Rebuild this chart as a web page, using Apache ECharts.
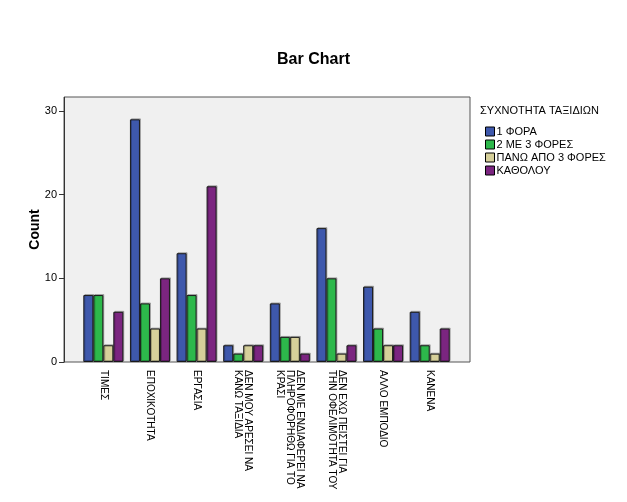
<!DOCTYPE html>
<html>
<head>
<meta charset="utf-8">
<script src="https://cdn.jsdelivr.net/npm/echarts@6/dist/echarts.min.js"></script>
<style>
    html, body { margin: 0; padding: 0; background: #fff; }
    #bar-container { width: 627px; height: 502px; }
</style>
</head>
<body>
<div id="bar-container"></div>
<script>
const categories = [
    'ΤΙΜΕΣ',
    'ΕΠΟΧΙΚΟΤΗΤΑ',
    'ΕΡΓΑΣΙΑ',
    'ΔΕΝ ΜΟΥ ΑΡΕΣΕΙ ΝΑ\nΚΑΝΩ ΤΑΞΙΔΙΑ',
    'ΔΕΝ ΜΕ ΕΝΔΙΑΦΕΡΕΙ ΝΑ\nΠΛΗΡΟΦΟΡΗΘΩ ΓΙΑ ΤΟ\nΚΡΑΣΙ',
    'ΔΕΝ ΕΧΩ ΠΕΙΣΤΕΙ ΓΙΑ\nΤΗΝ ΟΦΕΛΙΜΟΤΗΤΑ ΤΟΥ',
    'ΑΛΛΟ ΕΜΠΟΔΙΟ',
    'ΚΑΝΕΝΑ'
];
const seriesNames = ['1 ΦΟΡΑ', '2 ΜΕ 3 ΦΟΡΕΣ', 'ΠΑΝΩ ΑΠΟ 3 ΦΟΡΕΣ', 'ΚΑΘΟΛΟΥ'];
const once = [8, 29, 13, 2, 7, 16, 9, 6];
const twoToThree = [8, 7, 8, 1, 3, 10, 4, 2];
const overThree = [2, 4, 4, 2, 3, 1, 2, 1];
const never = [6, 10, 21, 2, 1, 2, 2, 4];
const colors = ['#3e58ac', '#2db84b', '#d6d09a', '#7b2580'];

const font = 'Arial, "Liberation Sans", sans-serif';
const chart = echarts.init(document.getElementById('bar-container'), null, { renderer: 'canvas' });

const values = [once, twoToThree, overThree, never];

const options = {
    animation: false,
    textStyle: { fontFamily: font },
    title: [
        {
            text: 'Bar Chart',
            left: 'center',
            top: 47,
            textStyle: { fontSize: 16, fontWeight: 'bold', color: '#000', fontFamily: font }
        },
        {
            text: 'ΣΥΧΝΟΤΗΤΑ ΤΑΞΙΔΙΩΝ',
            left: 475,
            top: 100,
            textStyle: { fontSize: 11, fontWeight: 'normal', color: '#000', fontFamily: font }
        }
    ],
    legend: {
        orient: 'vertical',
        left: 480,
        top: 121,
        itemWidth: 9,
        itemHeight: 9,
        itemGap: 2,
        icon: 'rect',
        data: seriesNames,
        textStyle: { fontSize: 11, color: '#000', fontFamily: font, padding: [0, 0, 0, -3] },
        itemStyle: { borderColor: '#000', borderWidth: 1 }
    },
    // grid top sits at the value 30; the frame above it is drawn by the graphic rect
    grid: {
        left: 80,
        right: 174,
        top: 111,
        bottom: 140
    },
    graphic: [
        { // plot frame
            type: 'rect',
            z: -10,
            silent: true,
            shape: { x: 64, y: 97, width: 406, height: 265 },
            style: { fill: '#f0f0f0', stroke: '#555', lineWidth: 1 }
        },
        { // y axis line up to the frame top
            type: 'line',
            z: -5,
            silent: true,
            shape: { x1: 64.5, y1: 97, x2: 64.5, y2: 362 },
            style: { stroke: '#333', lineWidth: 1 }
        }
    ],
    xAxis: {
        type: 'category',
        data: categories,
        axisLine: { show: false },
        axisTick: { alignWithLabel: true, length: 7, lineStyle: { color: '#333' } },
        axisLabel: {
            interval: 0,
            rotate: -90,
            fontSize: 10,
            lineHeight: 10,
            margin: 8,
            color: '#000'
        }
    },
    yAxis: {
        type: 'value',
        min: 0,
        max: 30,
        interval: 10,
        offset: 16,
        name: 'Count',
        nameLocation: 'middle',
        nameRotate: 90,
        nameGap: 22,
        nameMoveOverlap: false,
        nameTextStyle: { fontSize: 14, fontWeight: 'bold', color: '#000', padding: [0, 0, 0, 14] },
        axisLine: { show: true, lineStyle: { color: '#333' } },
        axisTick: { show: true, length: 5, lineStyle: { color: '#333' } },
        axisLabel: {
            fontSize: 11,
            color: '#000',
            margin: 7
        },
        splitLine: { show: false }
    },
    series: seriesNames.map((name, i) => ({
        name: name,
        type: 'bar',
        data: values[i],
        barWidth: 10,
        barGap: '0%',
        itemStyle: {
            color: colors[i],
            borderColor: '#1a1a1a',
            borderWidth: 1,
            shadowColor: 'rgba(0,0,0,0.25)',
            shadowOffsetX: 1,
            shadowOffsetY: -1
        }
    }))
};

chart.setOption(options);
</script>
</body>
</html>
